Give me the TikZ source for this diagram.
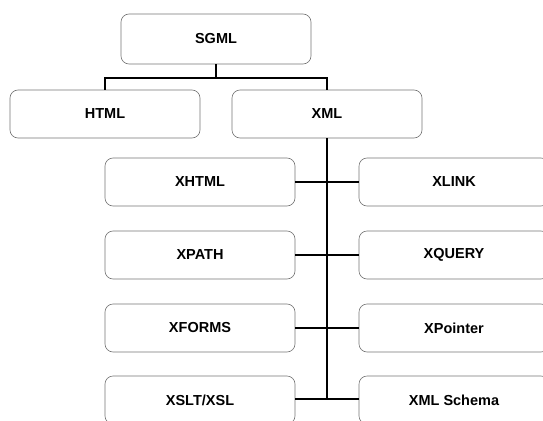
\documentclass[tikz,border=0pt]{standalone}
\usepackage{fontspec}
\setmainfont{Liberation Sans}
\begin{document}
\begin{tikzpicture}[x=1pt,y=-1pt,
  box/.style={draw=black!55, line width=0.6pt, rounded corners=8pt, minimum width=190pt, minimum height=48pt, inner sep=0pt, font=\fontsize{14.5}{16}\selectfont\bfseries, text=black},
  link/.style={draw=black, line width=1.8pt}]
\useasboundingbox (0,0) rectangle (543,420);
\clip (0,0) rectangle (543,420);
\node[box, minimum height=50pt] (sgml) at (216,39) {SGML};
\node[box] (html) at (105,114) {HTML};
\node[box] (xml) at (327,114) {XML};
\node[box] (xhtml) at (200,182) {XHTML};
\node[box] (xpath) at (200,255) {XPATH};
\node[box] (xforms) at (200,328) {XFORMS};
\node[box] (xslt) at (200,400) {XSLT/XSL};
\node[box] (xlink) at (454,182) {XLINK};
\node[box] (xquery) at (454,255) {XQUERY};
\node[box] (xpointer) at (454,328) {XPointer};
\node[box] (schema) at (454,400) {XML Schema};
\coordinate (split) at (216,78);
\coordinate (trunkend) at (327,399);
\draw[link] (sgml.south) -- (split);
\draw[link] (split) -| (html.north);
\draw[link] (split) -| (xml.north);
\draw[link] (xml.south) -- (trunkend);
\draw[link] (xhtml.east) -- (xlink.west);
\draw[link] (xpath.east) -- (xquery.west);
\draw[link] (xforms.east) -- (xpointer.west);
\draw[link] (xslt.east |- trunkend) -- (schema.west |- trunkend);
\end{tikzpicture}
\end{document}
